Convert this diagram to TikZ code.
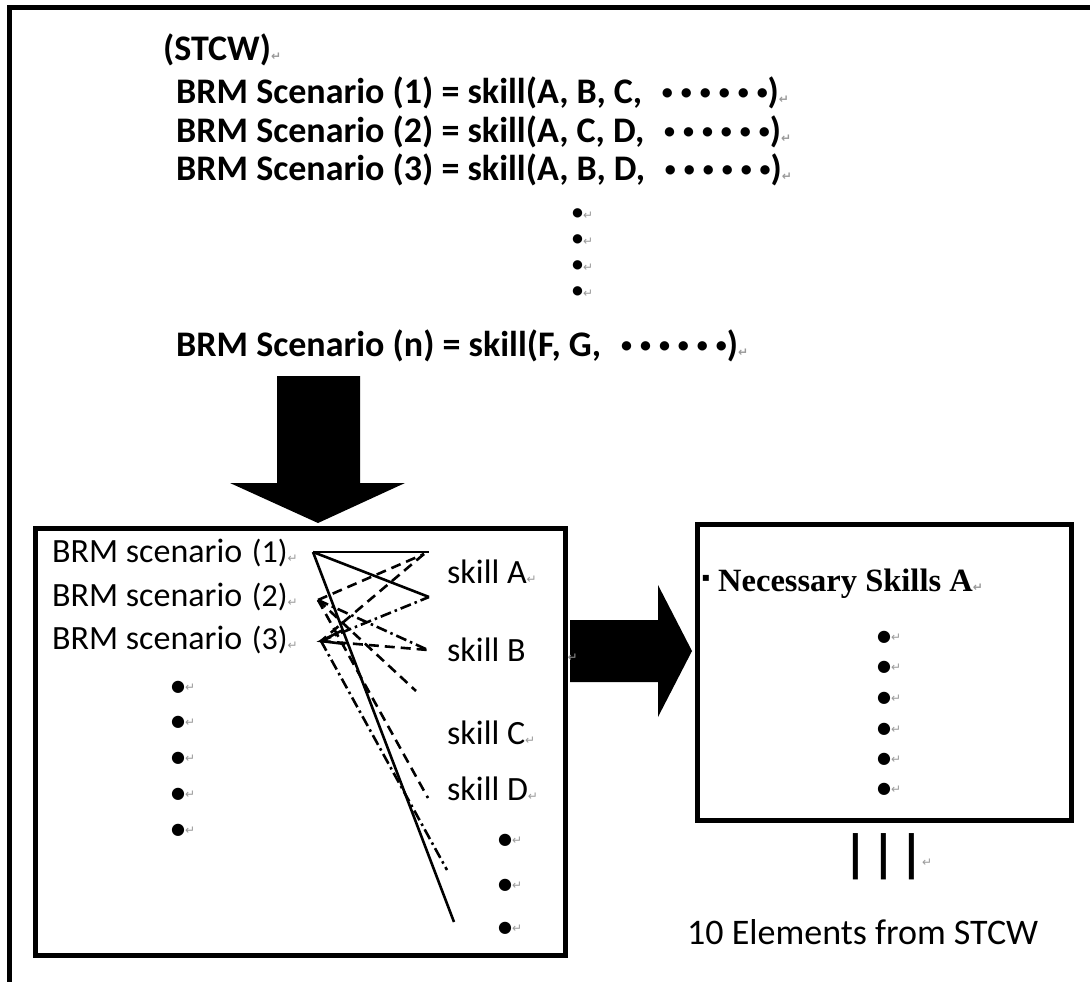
\documentclass[tikz,border=0pt]{standalone}
\usepackage{fontspec}
\setmainfont{Carlito}
\newfontfamily\symfont{DejaVu Sans}
\newfontfamily\headserif{Liberation Serif}
% Word-style paragraph mark, list bullet and small inline dots
\newcommand\rmk{{\symfont\fontsize{12}{12}\selectfont\color{black!40}↵}}
\newcommand\bigdot{{\symfont\fontsize{16}{16}\selectfont ●}}
\newcommand\sdot{{\fontsize{22}{22}\selectfont\bfseries •}}
\newcommand\rdot{\raisebox{4pt}{\sdot}}
\newcommand\sdots{\rdot\hspace{8pt}\rdot\hspace{8pt}\rdot\hspace{8pt}\rdot\hspace{8pt}\rdot\hspace{8pt}\rdot}

\begin{document}
\begin{tikzpicture}[x=1pt,y=-1pt,
  txt/.style={anchor=west, inner sep=0pt, font=\fontsize{34}{34}\selectfont},
  boldtxt/.style={anchor=west, inner sep=0pt, font=\fontsize{36}{36}\selectfont\bfseries},
  dotitem/.style={anchor=west, inner sep=0pt},
  frame/.style={draw, line width=5pt, inner sep=0pt},
  link/.style={line width=2.6pt},
  dashlink/.style={link, dash pattern=on 10pt off 6pt},
  dotlink/.style={link, dash pattern=on 11pt off 4pt on 2.5pt off 4pt},
  bigarrow/.style={fill=black},
]
\useasboundingbox (0,0) rectangle (1090,982);
\fill[white] (0,0) rectangle (1090,982);

% outer frame: only its top and left edges lie on the page
\draw[line width=5pt] (9.5,982) -- (9.5,7.5) -- (1090,7.5);

% ---- scenario definitions ----
\node[boldtxt] (stcw) at (163,50) {(STCW)\rmk};
\node[boldtxt] (def1) at (176,93) {BRM Scenario (1) = skill(A, B, C,\hspace{20pt}\sdots)\rmk};
\node[boldtxt] (def2) at (176,132) {BRM Scenario (2) = skill(A, C, D,\hspace{20pt}\sdots)\rmk};
\node[boldtxt] (def3) at (176,170) {BRM Scenario (3) = skill(A, B, D,\hspace{20pt}\sdots)\rmk};
\foreach \yy [count=\i] in {214,240,266,292}
  \node[dotitem] (vd\i) at (572,\yy) {\sdot\rmk};
\node[boldtxt] (defn) at (176,346) {BRM Scenario (n) = skill(F, G,\hspace{20pt}\sdots)\rmk};

% ---- big block arrows ----
\fill[bigarrow] (277,376) -- (360,376) -- (360,483) -- (405,483) -- (318,523)
  -- (230,483) -- (277,483) -- cycle;
\fill[bigarrow] (570,620) -- (658,620) -- (658,585) -- (692,651) -- (658,717)
  -- (658,682) -- (570,682) -- cycle;

% ---- boxes ----
\node[frame, minimum width=530pt, minimum height=427pt] (lbox) at (300,741.5) {};
\node[frame, minimum width=374pt, minimum height=296pt] (rbox) at (884,672) {};

% ---- scenarios and skills ----
\node[txt] (sc1) at (52,553) {BRM scenario\ \hspace{2pt}{\fontsize{32}{32}\selectfont(1)}\rmk};
\node[txt] (sc2) at (52,597) {BRM scenario\ \hspace{2pt}{\fontsize{32}{32}\selectfont(2)}\rmk};
\node[txt] (sc3) at (52,640) {BRM scenario\ \hspace{2pt}{\fontsize{32}{32}\selectfont(3)}\rmk};
\foreach \yy [count=\i] in {687,722,758,794,830}
  \node[dotitem] (ld\i) at (171,\yy) {\bigdot\rmk};

\node[txt] (ska) at (447,572) {skill A\rmk};
\node[txt] (skb) at (447,650) {skill B\hspace{42pt}\rmk};
\node[txt] (skc) at (447,733) {skill C\rmk};
\node[txt] (skd) at (447,789) {skill D\rmk};
\foreach \yy [count=\i] in {840,885,928}
  \node[dotitem] (rd\i) at (498,\yy) {\bigdot\rmk};

% ---- scenario/skill links ----
\coordinate (s1) at (313,552);
\coordinate (s2) at (318,600);
\coordinate (s3) at (321,641);
\coordinate (a1) at (429,552);
\coordinate (a1b) at (424,554);
\coordinate (a2) at (429,597);
\coordinate (bb) at (428,650);
\coordinate (e1) at (416,691);
\coordinate (dd) at (428,798);
\coordinate (e2) at (447,870);
\coordinate (e3) at (454,922);
\coordinate (t1) at (343,630);
\coordinate (t2) at (345,644);

\draw[link] (s1) -- (a1);
\draw[link] (s1) -- (a2);
\draw[link] (s1) -- (e3);
\draw[link] (t1) -- (s3) -- (t2);
\draw[dashlink] (s2) -- (a1b);
\draw[dashlink] (a1b) -- (s3);
\draw[dashlink] (s2) -- (e1);
\draw[dashlink] (s2) -- (dd);
\draw[dashlink] (s3) -- (bb);
\draw[dotlink] (s2) -- (bb);
\draw[dotlink] (s3) -- (a2);
\draw[dotlink] (s3) -- (e2);

% ---- result box ----
\node[anchor=center, inner sep=0pt] (sq) at (706,578) {\symfont\fontsize{12}{12}\selectfont ▪};
\node[anchor=west, inner sep=0pt, font=\headserif\fontsize{32.5}{32.5}\selectfont\bfseries]
  (need) at (718,584) {Necessary Skills A\rmk};
\foreach \yy [count=\i] in {637,667,698,729,759,789}
  \node[dotitem] (nd\i) at (877,\yy) {\bigdot\rmk};

\node[anchor=center, inner sep=0pt, font=\fontsize{52}{52}\selectfont\bfseries] (eq) at (884,857)
  {|\hspace{3pt}|\hspace{3pt}|};
\node[anchor=west, inner sep=0pt] (eqm) at (922,863) {\rmk};
\node[txt, font=\fontsize{36}{36}\selectfont] (ten) at (687,932) {10 Elements from STCW};
\end{tikzpicture}
\end{document}
